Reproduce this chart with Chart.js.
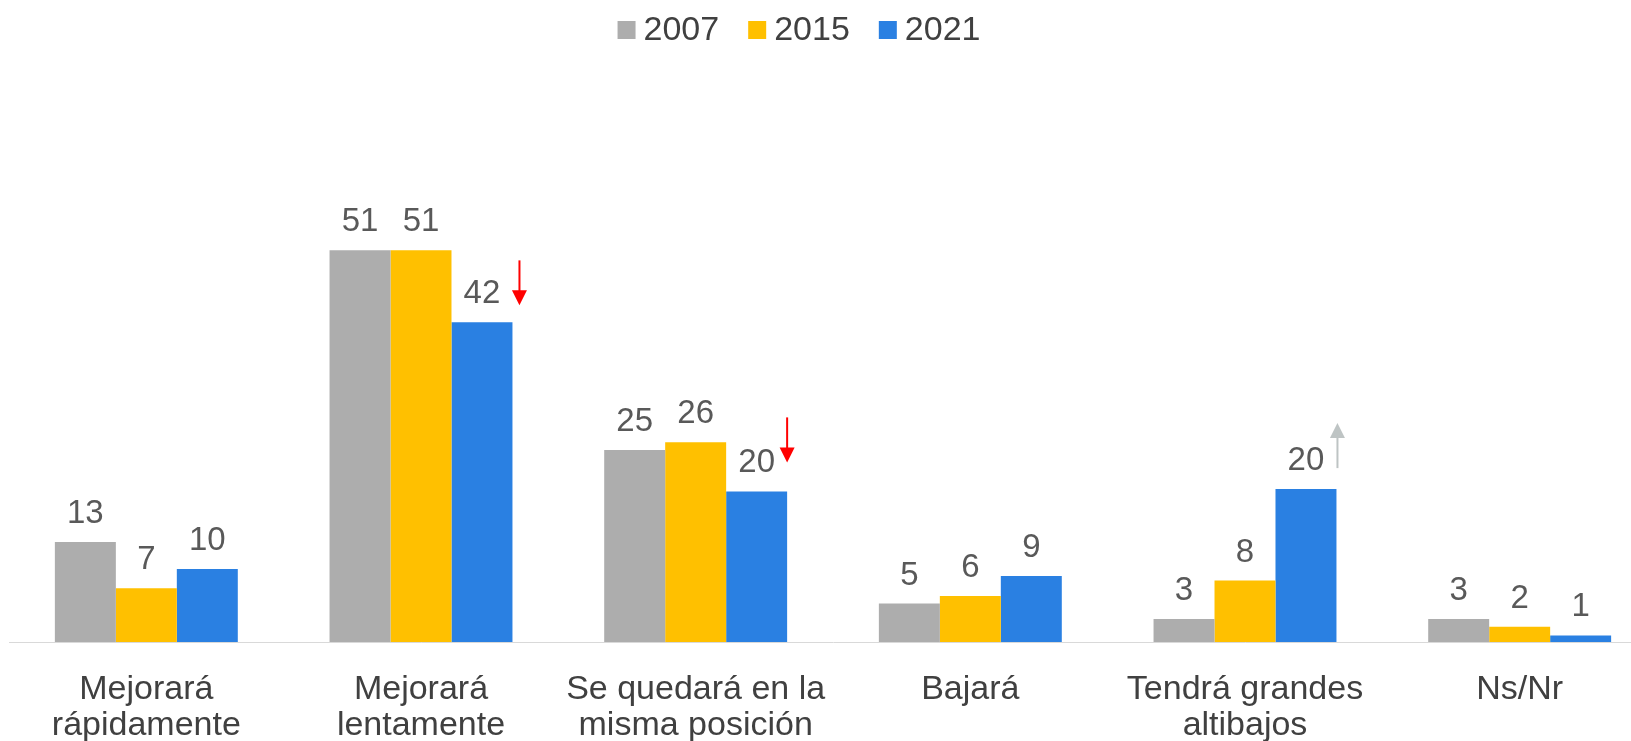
<!DOCTYPE html>
<html>
<head>
<meta charset="utf-8">
<script src="https://cdn.jsdelivr.net/npm/chart.js@4"></script>
<style>
    html, body { margin: 0; padding: 0; background: #fff; overflow: hidden; }
    #wrap { width: 1657px; height: 741px; }
</style>
</head>
<body>
<div id="wrap"><canvas id="expectChart"></canvas></div>
<script>
// Categories and series values
const categories = [
    ['Mejorará', 'rápidamente'],
    ['Mejorará', 'lentamente'],
    ['Se quedará en la', 'misma posición'],
    ['Bajará'],
    ['Tendrá grandes', 'altibajos'],
    ['Ns/Nr']
];
const seriesNames = ['2007', '2015', '2021'];
const values2007 = [13, 51, 25, 5, 3, 3];
const values2015 = [7, 51, 26, 6, 8, 2];
const values2021 = [9.5, 41.6, 19.6, 8.6, 19.9, 0.85];
const seriesColors = ['#ADADAD', '#FFC000', '#2A80E2'];

// Trend arrows next to some 2021 bars
const arrows = [
    { series: 2, index: 1, dir: 'down', color: '#FF0000', dx: 7, from: 62, to: 17 },
    { series: 2, index: 2, dir: 'down', color: '#FF0000', dx: 0, from: 74, to: 29 },
    { series: 2, index: 4, dir: 'up', color: '#BEC4C4', dx: 1, from: 21, to: 66 }
];

const fontFamily = '"Liberation Sans", Arial, sans-serif';

const extras = {
    id: 'extras',
    afterDatasetsDraw(chart) {
        const ctx = chart.ctx;
        ctx.save();

        // value labels above bars
        ctx.font = '33px ' + fontFamily;
        ctx.fillStyle = '#595959';
        ctx.textAlign = 'center';
        ctx.textBaseline = 'alphabetic';
        chart.data.datasets.forEach((ds, i) => {
            chart.getDatasetMeta(i).data.forEach((bar, j) => {
                ctx.fillText(String(Math.round(ds.data[j])), bar.x, bar.y - 19);
            });
        });

        // arrows
        arrows.forEach(a => {
            const bar = chart.getDatasetMeta(a.series).data[a.index];
            const x = bar.x + bar.width / 2 + a.dx;
            const head = 15;
            const y0 = bar.y - a.from;
            const tip = bar.y - a.to;
            ctx.strokeStyle = a.color;
            ctx.fillStyle = a.color;
            ctx.lineWidth = 2;
            ctx.beginPath();
            if (a.dir === 'down') {
                ctx.moveTo(x, y0);
                ctx.lineTo(x, tip - head + 1);
                ctx.stroke();
                ctx.beginPath();
                ctx.moveTo(x - 7.5, tip - head);
                ctx.lineTo(x + 7.5, tip - head);
                ctx.lineTo(x, tip);
            } else {
                ctx.moveTo(x, y0);
                ctx.lineTo(x, tip + head - 1);
                ctx.stroke();
                ctx.beginPath();
                ctx.moveTo(x - 7.5, tip + head);
                ctx.lineTo(x + 7.5, tip + head);
                ctx.lineTo(x, tip);
            }
            ctx.closePath();
            ctx.fill();
        });

        // legend
        ctx.font = '34px ' + fontFamily;
        ctx.textAlign = 'left';
        ctx.textBaseline = 'middle';
        const box = 18, gapText = 8, gapItem = 29;
        const widths = seriesNames.map(n => ctx.measureText(n).width);
        const total = widths.reduce((s, w) => s + box + gapText + w, 0) + gapItem * (seriesNames.length - 1);
        let x = 799 - total / 2;
        const cy = 30;
        seriesNames.forEach((n, i) => {
            ctx.fillStyle = seriesColors[i];
            ctx.fillRect(x, cy - box / 2, box, box);
            ctx.fillStyle = '#404040';
            ctx.fillText(n, x + box + gapText, cy + 1);
            x += box + gapText + widths[i] + gapItem;
        });

        ctx.restore();
    }
};

document.addEventListener('DOMContentLoaded', function() {
    const ctx = document.getElementById('expectChart').getContext('2d');
    const seriesData = [values2007, values2015, values2021];

    new Chart(ctx, {
        type: 'bar',
        data: {
            labels: categories,
            datasets: seriesNames.map((name, i) => ({
                label: name,
                data: seriesData[i],
                backgroundColor: seriesColors[i],
                borderWidth: 0,
                categoryPercentage: 0.666,
                barPercentage: 1.0
            }))
        },
        options: {
            responsive: true,
            maintainAspectRatio: false,
            animation: false,
            layout: {
                padding: { top: 181, left: 9, right: 0, bottom: 0 }
            },
            plugins: {
                legend: { display: false },
                tooltip: { enabled: false }
            },
            scales: {
                y: {
                    display: false,
                    min: 0,
                    max: 60
                },
                x: {
                    grid: { display: false, drawTicks: false },
                    border: { display: true, color: '#D9D9D9', width: 1 },
                    ticks: {
                        autoSkip: false,
                        maxRotation: 0,
                        padding: 30,
                        color: '#404040',
                        font: { family: fontFamily, size: 34, lineHeight: 1.05 }
                    },
                    afterFit: function(scale) {
                        scale.height = 99;
                    }
                }
            }
        },
        plugins: [extras]
    });
});
</script>
</body>
</html>
